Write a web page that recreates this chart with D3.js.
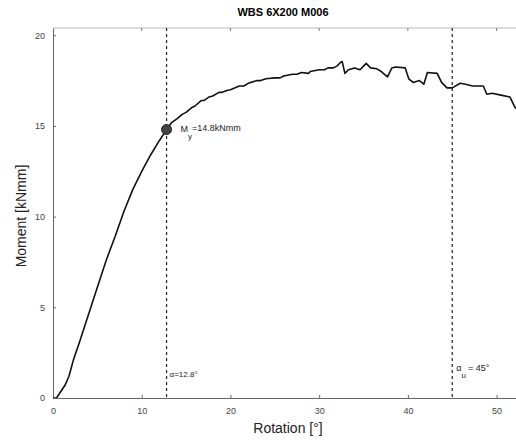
<!DOCTYPE html>
<html>
<head>
<meta charset="utf-8">
<script src="https://cdn.jsdelivr.net/npm/d3@7"></script>
<style>
  body { margin: 0; background: #fff; }
  text { font-family: "Liberation Sans", Arial, sans-serif; }
</style>
</head>
<body>
<div id="chart"></div>
<script>
var width = 516;
var height = 440;

// rotation [deg] and moment [kNmm]
var rotation = [0, 0.4, 0.8, 1.35, 1.8, 2.3, 3, 4, 5, 6, 7, 8, 9, 10, 11, 12, 12.8,
  13.4, 14, 14.6, 15, 15.6, 16, 16.7, 17, 17.6, 18, 18.7, 19, 19.6, 20, 21, 21.5, 22, 23, 23.4, 24, 25, 25.6, 26,
  27, 27.5, 28, 28.8, 29, 30, 30.6, 31, 31.6, 32, 32.4, 32.6, 32.9, 33.3, 34, 34.6, 35, 35.3, 35.8, 36.5, 37, 37.7,
  38.2, 38.6, 39.7, 40.1, 40.6, 41.3, 41.8, 42.2, 43.3, 43.8, 44.4, 45, 45.9, 46.5, 47.3, 48.5, 48.9,
  49.5, 50.5, 51.5, 52.1, 52.5];
var moment = [0, 0, 0.3, 0.7, 1.2, 2.1, 3.1, 4.6, 6.1, 7.6, 8.9, 10.3, 11.5, 12.5, 13.4, 14.2, 14.8,
  15.2, 15.4, 15.65, 15.75, 16.0, 16.1, 16.4, 16.4, 16.6, 16.65, 16.85, 16.85, 16.95, 17.0, 17.2, 17.2, 17.35, 17.5, 17.5, 17.6, 17.65, 17.65, 17.75,
  17.85, 17.85, 17.95, 17.9, 18.0, 18.1, 18.1, 18.2, 18.2, 18.3, 18.5, 18.55, 17.9, 18.1, 18.2, 18.1, 18.3, 18.45, 18.2, 18.15, 18.0, 17.7,
  18.2, 18.25, 18.2, 17.6, 17.4, 17.5, 17.3, 17.95, 17.9, 17.4, 17.1, 17.1, 17.35, 17.3, 17.2, 17.2, 16.75,
  16.8, 16.7, 16.6, 16.0, 15.9];

var xTicks = [0, 10, 20, 30, 40, 50];
var yTicks = [0, 5, 10, 15, 20];

// marked points
var yieldRot = 12.8, yieldMoment = 14.8;
var ultRot = 45;

var svg = d3.select("#chart").append("svg")
  .attr("width", width)
  .attr("height", height);

var x = d3.scaleLinear().domain([0, 52.3]).range([53, 517]);
var y = d3.scaleLinear().domain([0, 20.4]).range([398, 28]);

svg.append("defs").append("clipPath").attr("id", "clip")
  .append("rect")
  .attr("x", x(0)).attr("y", y(20.4))
  .attr("width", width - x(0)).attr("height", y(0) - y(20.4));

// frame: faint top line, left and bottom axes
svg.append("line")
  .attr("x1", x(0)).attr("x2", width)
  .attr("y1", y(20.4)).attr("y2", y(20.4))
  .attr("stroke", "#bbb").attr("stroke-width", 1);

var xAxis = d3.axisBottom(x).tickValues(xTicks).tickSizeInner(-3).tickSizeOuter(0).tickPadding(10);
var gx = svg.append("g").attr("transform", "translate(0," + y(0) + ")").call(xAxis);
var yAxis = d3.axisLeft(y).tickValues(yTicks).tickSizeInner(-3).tickSizeOuter(0).tickPadding(8);
var gy = svg.append("g").attr("transform", "translate(" + x(0) + ",0)").call(yAxis);

[gx, gy].forEach(function (g) {
  g.select(".domain").attr("stroke", "#666");
  g.selectAll(".tick line").attr("stroke", "#666");
  g.selectAll(".tick text").attr("fill", "#444").attr("font-size", "9px")
    .style("font-family", "'Liberation Sans', Arial, sans-serif");
});

// tick marks on top edge too
svg.selectAll(".topTick").data(xTicks.slice(1)).enter().append("line")
  .attr("x1", function (d) { return x(d); }).attr("x2", function (d) { return x(d); })
  .attr("y1", y(20.4)).attr("y2", y(20.4) + 3)
  .attr("stroke", "#777");

// dashed markers
svg.selectAll(".vline").data([yieldRot, ultRot]).enter().append("line")
  .attr("x1", function (d) { return x(d); }).attr("x2", function (d) { return x(d); })
  .attr("y1", y(20.4)).attr("y2", y(0))
  .attr("stroke", "#222").attr("stroke-width", 1.2)
  .attr("stroke-dasharray", "3,3");

// curve
var line = d3.line()
  .x(function (d) { return x(d[0]); })
  .y(function (d) { return y(d[1]); });

svg.append("path")
  .datum(d3.zip(rotation, moment))
  .attr("clip-path", "url(#clip)")
  .attr("fill", "none")
  .attr("stroke", "#111")
  .attr("stroke-width", 1.6)
  .attr("stroke-linejoin", "round")
  .attr("d", line);

svg.append("circle")
  .attr("cx", x(yieldRot)).attr("cy", y(yieldMoment))
  .attr("r", 5).attr("fill", "#444").attr("stroke", "#222");

// annotations
var my = svg.append("text").attr("x", x(yieldRot) + 14).attr("y", y(yieldMoment) + 2)
  .attr("font-size", "9px").attr("fill", "#222");
my.append("tspan").text("M");
my.append("tspan").attr("font-size", "8px").attr("dy", 7).text("y");
my.append("tspan").attr("dy", -8).text("=14.8kNmm");

svg.append("text").attr("x", x(yieldRot) + 3).attr("y", 377)
  .attr("font-size", "8px").attr("fill", "#222").text("\u03b1=12.8\u00b0");

var au = svg.append("text").attr("x", x(ultRot) + 4).attr("y", 371)
  .attr("font-size", "9px").attr("fill", "#222");
au.append("tspan").text("\u03b1");
au.append("tspan").attr("font-size", "8px").attr("dy", 7).text("u");
au.append("tspan").attr("dy", -7).attr("dx", 2).text("= 45\u00b0");

// titles
svg.append("text").attr("x", 283).attr("y", 16)
  .attr("text-anchor", "middle").attr("font-size", "11px").attr("font-weight", "bold")
  .text("WBS 6X200 M006");

svg.append("text").attr("x", 288).attr("y", 433)
  .attr("text-anchor", "middle").attr("font-size", "14px").attr("fill", "#222")
  .text("Rotation [\u00b0]");

svg.append("text")
  .attr("transform", "translate(26,216)rotate(-90)")
  .attr("text-anchor", "middle").attr("font-size", "14px").attr("fill", "#222")
  .text("Moment [kNmm]");
</script>
</body>
</html>
